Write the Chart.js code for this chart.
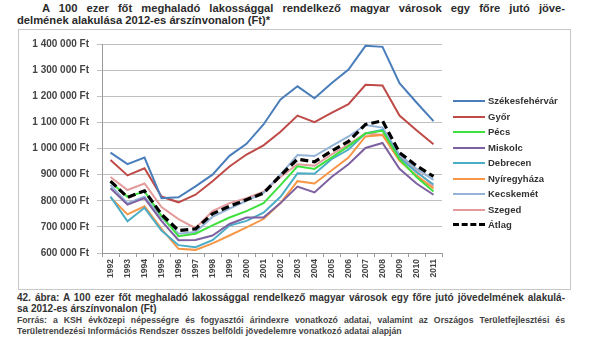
<!DOCTYPE html>
<html>
<head>
<meta charset="utf-8">
<script src="https://cdn.jsdelivr.net/npm/chart.js"></script>
<style>
  body { margin:0; width:600px; height:341px; background:#fff; position:relative; overflow:hidden;
         font-family:"Liberation Sans", Arial, sans-serif; color:#333; }
  .ln { position:absolute; white-space:nowrap; line-height:12px; }
  .just { text-align:justify; text-align-last:justify; white-space:normal; }
  .ttl { font-weight:bold; font-size:11.2px; color:#2b2b2b; }
  #box { position:absolute; left:18px; top:29px; width:551px; height:259px; border:1px solid #c8c8c8; }
  #wrap { position:absolute; left:0; top:0; width:550px; height:258px; }
  #legend { position:absolute; left:453px; top:94px; font-weight:bold; font-size:9.5px; color:#333; }
  .li { position:absolute; left:0; height:14px; width:120px; }
  .li i { position:absolute; left:0; top:6px; width:32px; height:0; }
  .li span { position:absolute; left:35px; top:1px; }
  .cap { font-weight:bold; font-size:10px; color:#333; line-height:11px; }
  .src { font-weight:bold; font-size:8.7px; color:#444; line-height:11px; }
</style>
</head>
<body>
<div class="ln just ttl" style="left:42px;top:2px;width:523px;">A 100 ezer főt meghaladó lakossággal rendelkező magyar városok egy főre jutó jöve-</div>
<div class="ln ttl" style="left:17px;top:14px;">delmének alakulása 2012-es árszínvonalon (Ft)*</div>

<div id="box">
  <div id="wrap"><canvas id="chart" width="550" height="258"></canvas></div>
</div>
<div id="legend"></div>

<div class="ln just cap" style="left:17px;top:292px;width:548px;">42. ábra: A 100 ezer főt meghaladó lakossággal rendelkező magyar városok egy főre jutó jövedelmének alakulá-</div>
<div class="ln cap" style="left:17px;top:303px;">sa 2012-es árszínvonalon (Ft)</div>
<div class="ln just src" style="left:17px;top:315px;width:548px;">Forrás: a KSH évközepi népességre és fogyasztói árindexre vonatkozó adatai, valamint az Országos Területfejlesztési és</div>
<div class="ln src" style="left:17px;top:326px;">Területrendezési Információs Rendszer összes belföldi jövedelemre vonatkozó adatai alapján</div>

<script>
// ---------- data (Ft / fő) ----------
const years = ["1992","1993","1994","1995","1996","1997","1998","1999","2000","2001",
               "2002","2003","2004","2005","2006","2007","2008","2009","2010","2011"];

const szekesfehervar = [984000,940000,965000,810000,813000,855000,900000,972000,1018000,1092000,1188000,1238000,1192000,1250000,1302000,1393000,1389000,1250000,1176000,1105000];
const gyor           = [956000,897000,924000,816000,794000,823000,875000,931000,977000,1012000,1064000,1126000,1101000,1136000,1170000,1244000,1241000,1126000,1070000,1016000];
const pecs           = [872000,815000,836000,742000,664000,674000,706000,736000,760000,791000,860000,932000,922000,965000,1009000,1058000,1068000,959000,891000,835000];
const miskolc        = [848000,785000,810000,723000,649000,650000,667000,711000,736000,736000,791000,854000,832000,891000,940000,1002000,1021000,922000,866000,823000];
const debrecen       = [816000,721000,773000,686000,630000,622000,649000,705000,723000,754000,815000,905000,903000,959000,996000,1058000,1071000,965000,909000,862000];
const nyiregyhaza    = [813000,748000,779000,692000,616000,612000,637000,667000,698000,730000,791000,875000,866000,916000,965000,1046000,1052000,953000,897000,847000];
const kecskemet      = [860000,791000,816000,736000,674000,680000,738000,770000,800000,830000,900000,975000,971000,1009000,1046000,1090000,1080000,977000,922000,880000];
const szeged         = [891000,841000,866000,776000,730000,695000,760000,791000,810000,835000,891000,940000,934000,977000,1015000,1058000,1052000,971000,916000,854000];
const atlag          = [875000,813000,838000,748000,686000,692000,750000,779000,804000,829000,897000,959000,949000,990000,1027000,1092000,1106000,984000,934000,893000];

const seriesNames  = ["Székesfehérvár","Győr","Pécs","Miskolc","Debrecen","Nyíregyháza","Kecskemét","Szeged","Átlag"];
const seriesData   = [szekesfehervar, gyor, pecs, miskolc, debrecen, nyiregyhaza, kecskemet, szeged, atlag];
const seriesColors = ["#4a7ebb","#be4b48","#3ee23e","#7d60a0","#4bacc6","#f79646","#95b3d7","#e39c9b","#000000"];

// ---------- datasets ----------
const datasets = seriesNames.map((name, i) => {
  const avg = name === "Átlag";
  return {
    label: name,
    data: seriesData[i],
    borderColor: seriesColors[i],
    backgroundColor: seriesColors[i],
    borderWidth: avg ? 3.2 : 2,
    borderDash: avg ? [8, 4] : [],
    pointRadius: 0,
    tension: 0,
    order: avg ? 0 : 1,
  };
});

const fmtFt = v => String(v).replace(/\B(?=(\d{3})+(?!\d))/g, " ") + " Ft";

new Chart(document.getElementById("chart"), {
  type: "line",
  data: { labels: years, datasets },
  options: {
    responsive: false,
    animation: false,
    layout: { padding: { top: 8, right: 127, bottom: 0, left: 0 } },
    plugins: { legend: { display: false }, tooltip: { enabled: false } },
    scales: {
      y: {
        min: 600000, max: 1400000,
        afterFit: s => { s.width = 83; },
        ticks: { stepSize: 100000, callback: fmtFt, color: "#444", padding: 8,
                 font: { family: "Liberation Sans", size: 10, weight: "bold" } },
        grid: { color: "#c0c0c0", lineWidth: 1, tickLength: 5, drawTicks: true },
        border: { display: true, color: "#9a9a9a" },
      },
      x: {
        afterFit: s => { s.height = 35; },
        offset: true,
        ticks: { minRotation: 90, maxRotation: 90, autoSkip: false, color: "#444", padding: 2,
                 font: { family: "Liberation Sans", size: 8.5, weight: "bold" } },
        grid: { offset: true, drawOnChartArea: false, tickLength: 4, color: "#9a9a9a" },
        border: { display: true, color: "#9a9a9a" },
      },
    },
  },
});

// ---------- legend ----------
const lg = document.getElementById("legend");
seriesNames.forEach((name, i) => {
  const d = document.createElement("div");
  d.className = "li";
  d.style.top = (i * 15.5) + "px";
  const avg = name === "Átlag";
  const line = avg ? `border-top:3px dashed ${seriesColors[i]};top:5px;` : `border-top:2px solid ${seriesColors[i]};`;
  d.innerHTML = `<i style="${line}"></i><span>${name}</span>`;
  lg.appendChild(d);
});
</script>
</body>
</html>
